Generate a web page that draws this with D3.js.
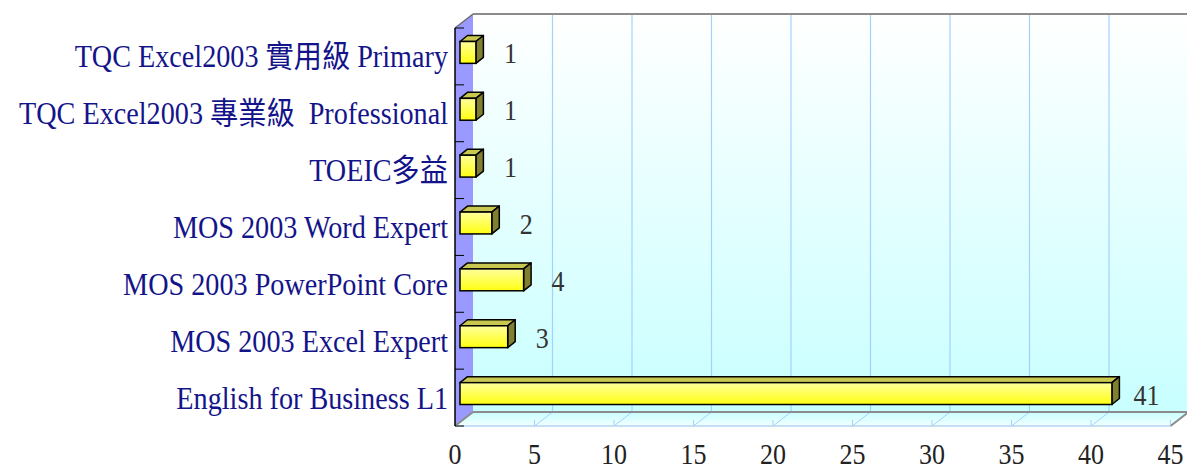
<!DOCTYPE html>
<html>
<head>
<meta charset="utf-8">
<script src="https://cdn.jsdelivr.net/npm/d3@7"></script>
<style>
  body { margin: 0; background: #fff; }
  text { font-family: "Liberation Serif", "Noto Sans CJK TC", serif; }
</style>
</head>
<body>
<div id="chart"></div>
<script>
// categories top to bottom
var categories = [
  "TQC Excel2003 實用級 Primary",
  "TQC Excel2003 專業級\u00a0 Professional",
  "TOEIC多益",
  "MOS 2003 Word Expert",
  "MOS 2003 PowerPoint Core",
  "MOS 2003 Excel Expert",
  "English for Business L1"
];
var counts = [1, 1, 1, 2, 4, 3, 41];
var xTicks = [0, 5, 10, 15, 20, 25, 30, 35, 40, 45];

var svgWidth = 1187;
var svgHeight = 467;

// front plane of the 3d box
var front = { left: 455, right: 1170.5, top: 28, bottom: 426 };
// depth of the box (back wall offset)
var depth = { dx: 18, dy: -14 };
// bars sit in the middle of the depth
var barOff = { dx: 5, dy: -4 };
var barDepth = { dx: 7.5, dy: -6 };

var svg = d3.select("#chart")
  .append("svg")
  .attr("width", svgWidth)
  .attr("height", svgHeight);

var x = d3.scaleLinear()
  .domain([0, 45])
  .range([front.left, front.right]);

var y = d3.scaleBand()
  .domain(categories)
  .range([front.top, front.bottom]);

var defs = svg.append("defs");

var wallGrad = defs.append("linearGradient")
  .attr("id", "wallGrad")
  .attr("x1", 0).attr("y1", 0).attr("x2", 0).attr("y2", 1);
wallGrad.append("stop").attr("offset", "0%").attr("stop-color", "#ffffff");
wallGrad.append("stop").attr("offset", "100%").attr("stop-color", "#c8ffff");

var floorGrad = defs.append("linearGradient")
  .attr("id", "floorGrad")
  .attr("x1", 0).attr("y1", 0).attr("x2", 0).attr("y2", 1);
floorGrad.append("stop").attr("offset", "0%").attr("stop-color", "#c8ffff");
floorGrad.append("stop").attr("offset", "100%").attr("stop-color", "#f2ffff");

var barGrad = defs.append("linearGradient")
  .attr("id", "barGrad")
  .attr("x1", 0).attr("y1", 0).attr("x2", 0).attr("y2", 1);
barGrad.append("stop").attr("offset", "0%").attr("stop-color", "#ffff9c");
barGrad.append("stop").attr("offset", "100%").attr("stop-color", "#ffff10");

function pts(list) {
  return list.map(p => p[0] + "," + p[1]).join(" ");
}

var backLeft = front.left + depth.dx;
var backTop = front.top + depth.dy;
var backBottom = front.bottom + depth.dy;

// back wall
svg.append("polygon")
  .attr("points", pts([[backLeft, backTop], [x(45) + depth.dx, backTop],
    [x(45) + depth.dx, backBottom], [backLeft, backBottom]]))
  .attr("fill", "url(#wallGrad)");

// floor
svg.append("polygon")
  .attr("points", pts([[front.left, front.bottom], [backLeft, backBottom],
    [x(45) + depth.dx, backBottom], [x(45), front.bottom]]))
  .attr("fill", "url(#floorGrad)");

// side wall
svg.append("polygon")
  .attr("points", pts([[front.left, front.top], [backLeft, backTop],
    [backLeft, backBottom], [front.left, front.bottom]]))
  .attr("fill", "#9999ff");

// gridlines on back wall and floor
var grid = svg.append("g");
xTicks.filter(d => d > 0).forEach(function (v) {
  grid.append("line")
    .attr("x1", x(v) + depth.dx).attr("x2", x(v) + depth.dx)
    .attr("y1", backTop).attr("y2", backBottom)
    .attr("stroke", "#a4d0ff").attr("stroke-width", 1.2);
  grid.append("line")
    .attr("x1", x(v)).attr("y1", front.bottom)
    .attr("x2", x(v) + depth.dx).attr("y2", backBottom)
    .attr("stroke", "#a4d0ff").attr("stroke-width", 1);
  grid.append("line")
    .attr("x1", x(v)).attr("x2", x(v))
    .attr("y1", front.bottom - 6).attr("y2", front.bottom)
    .attr("stroke", "#a4d0ff").attr("stroke-width", 1);
});

// box edges
svg.append("line")
  .attr("x1", backLeft).attr("x2", svgWidth)
  .attr("y1", backTop).attr("y2", backTop)
  .attr("stroke", "#8c8c8c").attr("stroke-width", 2);
svg.append("line")
  .attr("x1", backLeft).attr("x2", svgWidth)
  .attr("y1", backBottom).attr("y2", backBottom)
  .attr("stroke", "#8c8c8c").attr("stroke-width", 2);
svg.append("line")
  .attr("x1", front.left).attr("y1", front.bottom)
  .attr("x2", backLeft).attr("y2", backBottom)
  .attr("stroke", "#8c8c8c").attr("stroke-width", 2);
svg.append("line")
  .attr("x1", x(45)).attr("y1", front.bottom)
  .attr("x2", x(45) + depth.dx).attr("y2", backBottom)
  .attr("stroke", "#8c8c8c").attr("stroke-width", 2);
svg.append("line")
  .attr("x1", front.left).attr("y1", front.top)
  .attr("x2", backLeft).attr("y2", backTop)
  .attr("stroke", "#6c6c6c").attr("stroke-width", 1.5);
svg.append("line")
  .attr("x1", front.left).attr("x2", x(45))
  .attr("y1", front.bottom).attr("y2", front.bottom)
  .attr("stroke", "#b4d4ee").attr("stroke-width", 1.5);

// category axis line and ticks
svg.append("line")
  .attr("x1", front.left).attr("x2", front.left)
  .attr("y1", front.top).attr("y2", front.bottom)
  .attr("stroke", "#000").attr("stroke-width", 1.5);
var boundaries = categories.map(c => y(c)).concat([front.bottom]);
svg.selectAll(".cat-tick")
  .data(boundaries)
  .enter()
  .append("line")
  .attr("x1", front.left).attr("x2", front.left + 9)
  .attr("y1", d => d).attr("y2", d => d)
  .attr("stroke", "#000").attr("stroke-width", 1);

// bars
var barH = y.bandwidth() / 2.6;
var bars = svg.selectAll(".bar")
  .data(categories)
  .enter()
  .append("g");

bars.each(function (c, i) {
  var g = d3.select(this);
  var x0 = front.left + barOff.dx;
  var x1 = x(counts[i]) + barOff.dx;
  var yc = y(c) + y.bandwidth() / 2 + barOff.dy;
  var t = yc - barH / 2;
  var b = yc + barH / 2;
  var ddx = barDepth.dx, ddy = barDepth.dy;
  // top face
  g.append("polygon")
    .attr("points", pts([[x0, t], [x0 + ddx, t + ddy], [x1 + ddx, t + ddy], [x1, t]]))
    .attr("fill", "#c8c850").attr("stroke", "#000").attr("stroke-width", 1.5)
    .attr("stroke-linejoin", "round");
  // side face
  g.append("polygon")
    .attr("points", pts([[x1, t], [x1 + ddx, t + ddy], [x1 + ddx, b + ddy], [x1, b]]))
    .attr("fill", "#808030").attr("stroke", "#000").attr("stroke-width", 1.5)
    .attr("stroke-linejoin", "round");
  // front face
  g.append("rect")
    .attr("x", x0).attr("y", t)
    .attr("width", x1 - x0).attr("height", b - t)
    .attr("fill", "url(#barGrad)").attr("stroke", "#000").attr("stroke-width", 1.5);
});

// value labels
svg.selectAll(".val")
  .data(categories)
  .enter()
  .append("text")
  .attr("text-anchor", "middle")
  .attr("font-size", 26)
  .attr("fill", "#333")
  .attr("transform", (c, i) => `translate(${x(counts[i]) + barOff.dx + barDepth.dx + 27}, ${y(c) + y.bandwidth() / 2 + barOff.dy + 11}) scale(1,1.12)`)
  .text((c, i) => counts[i]);

// category labels
svg.selectAll(".cat")
  .data(categories)
  .enter()
  .append("text")
  .attr("text-anchor", "end")
  .attr("font-size", 28.2)
  .attr("fill", "#14148a")
  .attr("transform", c => `translate(448, ${y(c) + y.bandwidth() / 2 + 11}) scale(1,1.1)`)
  .text(c => c);

// x axis labels
svg.selectAll(".xlab")
  .data(xTicks)
  .enter()
  .append("text")
  .attr("text-anchor", "middle")
  .attr("font-size", 26)
  .attr("fill", "#222")
  .attr("transform", d => `translate(${x(d)}, 464) scale(1,1.12)`)
  .text(d => d);
</script>
</body>
</html>
